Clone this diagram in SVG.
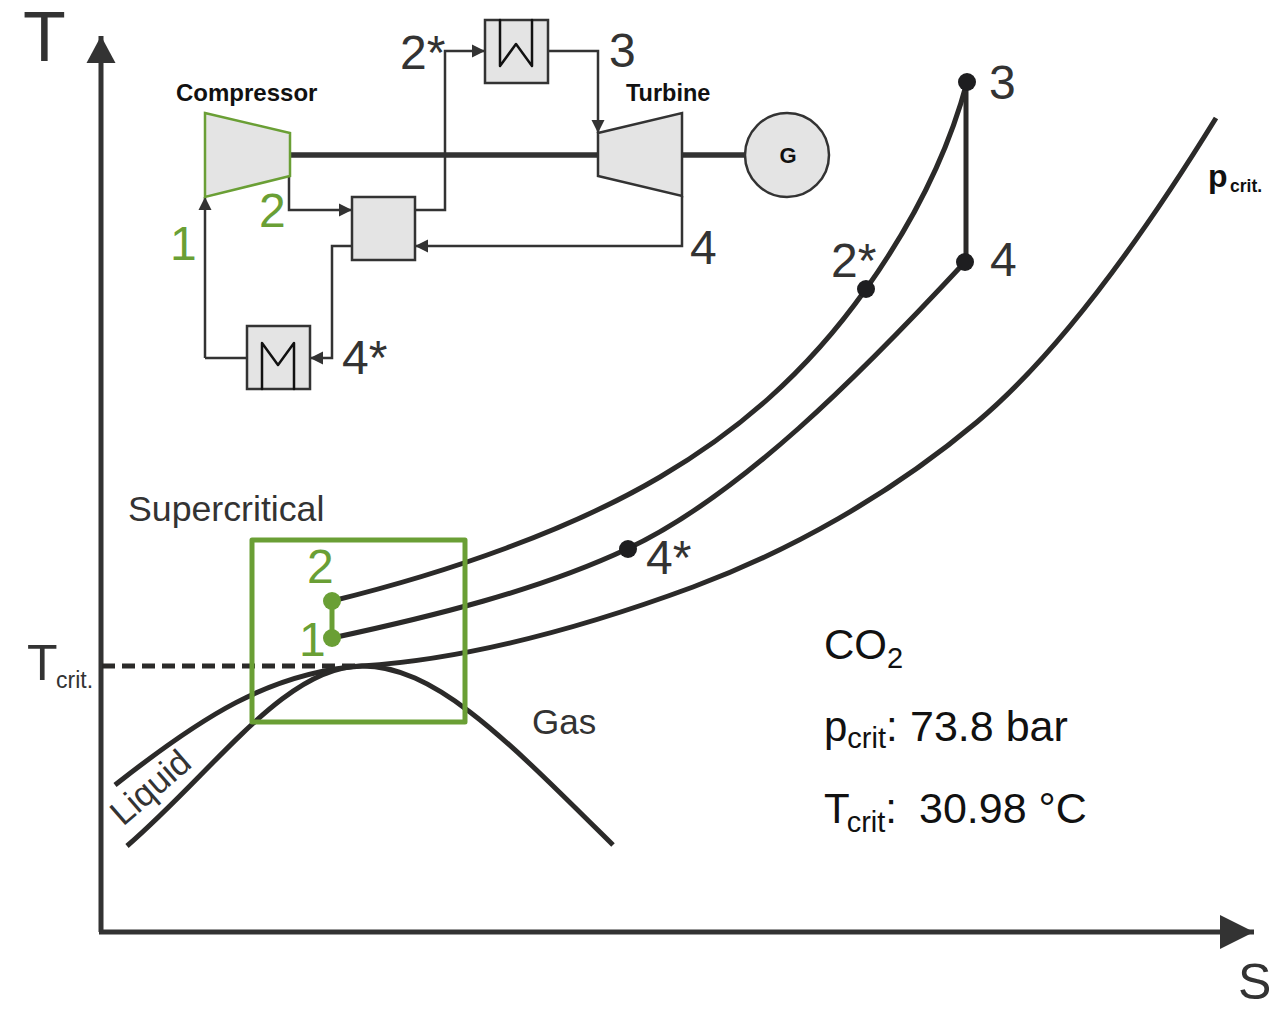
<svg xmlns="http://www.w3.org/2000/svg" width="1280" height="1010" viewBox="0 0 1280 1010">
<style>
text{font-family:"Liberation Sans",Arial,sans-serif;fill:#333}
.b{font-weight:bold;fill:#111}
.g{fill:#6a9f35}
.k{fill:#111}
.box{fill:#e4e4e4;stroke:#333;stroke-width:2.5}
.pipe{fill:none;stroke:#333;stroke-width:2.5}
.curve{fill:none;stroke:#2b2a29;stroke-width:5}
.n{font-size:48px}
.ink{fill:none;stroke:#111;stroke-width:2.5;stroke-linejoin:round;stroke-linecap:round}
</style>
<defs>
<marker id="ah" markerUnits="userSpaceOnUse" markerWidth="14" markerHeight="14" refX="13" refY="7" orient="auto"><path d="M0 0.5L13 7L0 13.5Z" fill="#333"/></marker>
<marker id="bigv" markerUnits="userSpaceOnUse" markerWidth="28" markerHeight="32" refX="27" refY="16" orient="auto"><path d="M0 1.5L27 16L0 30.5Z" fill="#333"/></marker>
<marker id="bigh" markerUnits="userSpaceOnUse" markerWidth="35" markerHeight="36" refX="34" refY="18" orient="auto"><path d="M0 1L34 18L0 35Z" fill="#333"/></marker>
</defs>
<g id="axes">
<path d="M101 932V36" fill="none" stroke="#333" stroke-width="5" marker-end="url(#bigv)"/>
<path d="M99 932H1254" fill="none" stroke="#333" stroke-width="5" marker-end="url(#bigh)"/>
<text x="23" y="61" font-size="70">T</text>
<text x="1238" y="999" font-size="50">S</text>
</g>
<g id="connectors">
<path class="pipe" d="M205 358V197" marker-end="url(#ah)"/>
<path class="pipe" d="M289 176V210H352" marker-end="url(#ah)"/>
<path class="pipe" d="M415 210H445V51H485" marker-end="url(#ah)"/>
<path class="pipe" d="M548 51H598V133" marker-end="url(#ah)"/>
<path class="pipe" d="M682 196V246H415" marker-end="url(#ah)"/>
<path class="pipe" d="M352 246H332V358H310" marker-end="url(#ah)"/>
<path class="pipe" d="M205 358H247"/>
<path d="M289 155H598M682 155H745" fill="none" stroke="#333" stroke-width="5.5"/>
</g>
<g id="curves">
<path class="curve" d="M332 601C450 572 570 530 660 477C735 433 805 375 866 289C905 234 945 165 967 82"/>
<path class="curve" d="M332 638C430 617 540 590 627 549C740 496 860 375 965 262"/>
<path class="curve" d="M115 785C200 718 270 672 362 666C470 659 590 625 693 587C790 551 890 495 977 422C1065 348 1150 225 1216 118"/>
<path class="curve" d="M127 846C215 770 285 666 362 666C435 666 505 738 613 845"/>
<path d="M102 666H362" fill="none" stroke="#2b2a29" stroke-width="5" stroke-dasharray="13 7"/>
<path d="M966 82V262" fill="none" stroke="#2b2a29" stroke-width="5"/>
</g>
<g id="region"><rect x="252" y="540" width="213" height="182" fill="none" stroke="#6a9f35" stroke-width="5" stroke-linejoin="round"/></g>
<g id="compressor"><path d="M205 113L290 133V176L205 197Z" fill="#e4e4e4" stroke="#6a9f35" stroke-width="2.5"/><text class="b" x="176" y="101" font-size="24">Compressor</text></g>
<g id="turbine"><path class="box" d="M598 133L682 113V196L598 176Z"/><text class="b" x="626" y="101" font-size="23.5">Turbine</text></g>
<g id="generator"><circle class="box" cx="787" cy="155" r="42"/><text class="b" x="788" y="163" font-size="22" text-anchor="middle">G</text></g>
<g id="recuperator"><rect class="box" x="352" y="197" width="63" height="63"/></g>
<g id="heater"><rect class="box" x="485" y="20" width="63" height="63"/><path class="ink" d="M500 20V66L516 44L532 66V20"/></g>
<g id="cooler"><rect class="box" x="247" y="326" width="63" height="63"/><path class="ink" d="M262 389V343L278 365L294 343V389"/></g>
<g id="points">
<path d="M332 601V638" stroke="#6a9f35" stroke-width="5"/>
<circle cx="332" cy="601" r="9" fill="#6a9f35"/><circle cx="332" cy="638" r="9" fill="#6a9f35"/>
<circle cx="967" cy="82" r="9" fill="#1e1e20"/><circle cx="965" cy="262" r="9" fill="#1e1e20"/>
<circle cx="866" cy="289" r="9" fill="#1e1e20"/><circle cx="628" cy="549" r="9" fill="#1e1e20"/>
</g>
<g id="labels">
<text class="n" x="400" y="69">2*</text>
<text class="n" x="609" y="67">3</text>
<text class="n" x="690" y="264">4</text>
<text class="n" x="342" y="374">4*</text>
<text class="n g" x="259" y="227">2</text>
<text class="n g" x="170" y="260">1</text>
<text class="n" x="989" y="99">3</text>
<text class="n" x="990" y="276">4</text>
<text class="n" x="831" y="277">2*</text>
<text class="n" x="646" y="574">4*</text>
<text class="n g" x="307" y="583">2</text>
<text class="n g" x="299" y="656">1</text>
<text x="128" y="521" font-size="35.7">Supercritical</text>
<text x="532" y="734" font-size="35">Gas</text>
<text transform="translate(123 827) rotate(-41)" font-size="35">Liquid</text>
<text x="27" y="680" font-size="50">T</text><text x="56" y="688" font-size="23">crit.</text>
<text class="b" x="1208" y="187" font-size="32">p</text><text class="b" x="1230" y="192" font-size="17.5">crit.</text>
<text class="k" x="824" y="659" font-size="42">CO<tspan font-size="29" dy="9">2</tspan></text>
<text class="k" x="824" y="741" font-size="42">p<tspan font-size="29" dy="7">crit</tspan><tspan dy="-7">:</tspan><tspan x="910" font-size="43">73.8 bar</tspan></text>
<text class="k" x="824" y="823" font-size="42">T<tspan font-size="29" dx="-3" dy="9">crit</tspan><tspan dy="-9">:</tspan><tspan x="919" font-size="43">30.98 °C</tspan></text>
</g>
</svg>
